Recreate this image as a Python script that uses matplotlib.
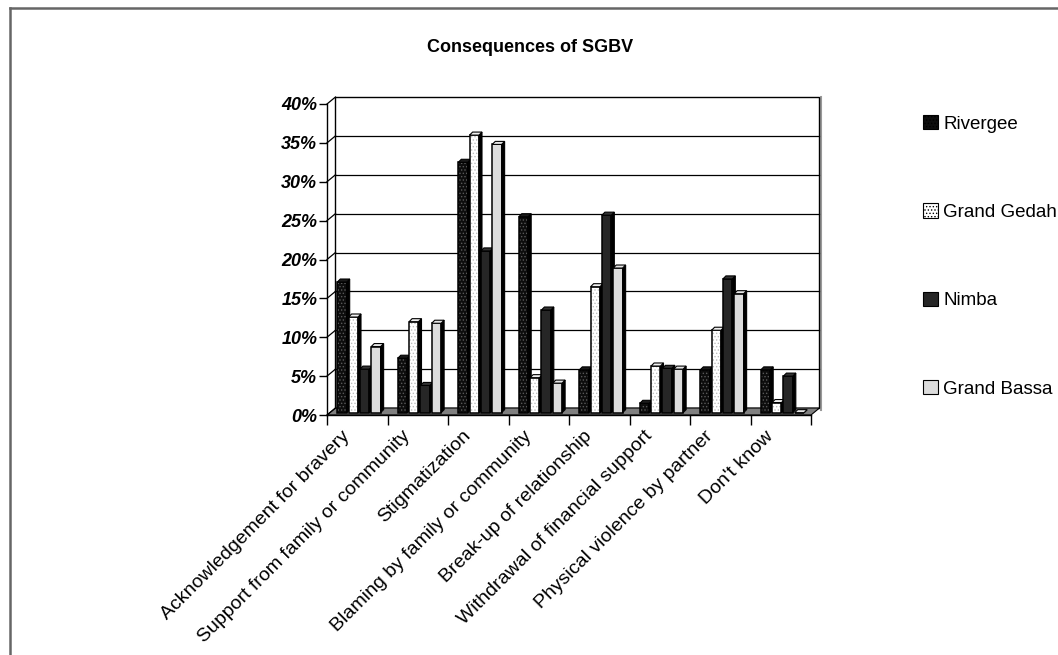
import matplotlib
matplotlib.use("Agg")
import matplotlib.pyplot as plt
from matplotlib.patches import Patch, Polygon, Rectangle
from matplotlib.lines import Line2D
from matplotlib.transforms import ScaledTranslation

plt.rcParams['font.family'] = ['Liberation Sans', 'DejaVu Sans']
plt.rcParams['hatch.linewidth'] = 0.6

# data (shares of respondents, %)
categories = ["Acknowledgement for bravery", "Support from family or community",
              "Stigmatization", "Blaming by family or community",
              "Break-up of relationship", "Withdrawal of financial support",
              "Physical violence by partner", "Don't know"]
series_names = ["Rivergee", "Grand Gedah", "Nimba", "Grand Bassa"]
rivergee = [16.8, 7.0, 32.2, 25.2, 5.5, 1.2, 5.5, 5.5]
grand_gedah = [12.3, 11.7, 35.7, 4.5, 16.2, 6.0, 10.6, 1.3]
nimba = [5.6, 3.5, 20.8, 13.2, 25.4, 5.7, 17.2, 4.7]
grand_bassa = [8.5, 11.5, 34.5, 3.8, 18.6, 5.6, 15.3, 0.0]
yticks = [0, 5, 10, 15, 20, 25, 30, 35, 40]

values = [rivergee, grand_gedah, nimba, grand_bassa]
faces = ['#0d0d0d', '#ffffff', '#262626', '#dcdcdc']
hatches = ['.....', '.....', None, None]
hatch_cols = ['#5a5a5a', '#bdbdbd', '#262626', '#dcdcdc']
tops = ['#1a1a1a', '#f0f0f0', '#333333', '#e6e6e6']

W, H = 1058, 655
fig = plt.figure(figsize=(W / 100, H / 100), dpi=100)
ax = fig.add_axes([327 / W, (H - 415) / H, (811 - 327) / W, (415 - 104) / H])
ax.set_xlim(0, len(categories))
ax.set_ylim(0, 40)

# 3d-ish offsets (data units)
bdx, bdy = 0.14, 0.9      # back wall
ddx, ddy = 0.05, 0.39     # bar depth
y0 = 0.3                  # bar base above floor front edge
start, pitch, bw = 0.17, 0.187, 0.155

# floor and walls
ncat = len(categories)
ax.add_patch(Polygon([(0, 0), (ncat, 0), (ncat + bdx, bdy), (bdx, bdy)],
                     closed=True, facecolor='#808080', edgecolor='black',
                     lw=0.8, clip_on=False, zorder=1))
ax.add_patch(Rectangle((bdx, bdy), ncat, 40, facecolor='white',
                       edgecolor='black', lw=1, clip_on=False, zorder=0.5))
for t in yticks:
    ax.plot([0, bdx], [t, t + bdy], color='black', lw=0.9, clip_on=False, zorder=1)
    if 0 < t < 40:
        ax.plot([bdx, ncat + bdx], [t + bdy, t + bdy], color='black', lw=0.9,
                clip_on=False, zorder=0.8)
ax.plot([ncat + bdx + 0.03] * 2, [bdy - 0.2, 40 + bdy], color='#999999', lw=1.5,
        clip_on=False, zorder=0.4)

# bars
for i in range(ncat):
    for s, vals in enumerate(values):
        v = vals[i]
        x = i + start + s * pitch
        z = 3 + i * 4 + s
        ax.bar(x, v, width=bw, bottom=y0, align='edge', color=faces[s],
               hatch=hatches[s], edgecolor=hatch_cols[s], lw=0, zorder=z)
        ax.bar(x, v, width=bw, bottom=y0, align='edge', fill=False,
               edgecolor='black', lw=1.1, zorder=z)
        ax.add_patch(Polygon([(x + bw, y0), (x + bw + ddx, y0 + ddy),
                              (x + bw + ddx, y0 + v + ddy), (x + bw, y0 + v)],
                             closed=True, facecolor='black', edgecolor='black',
                             lw=0.8, zorder=z, clip_on=False))
        ax.add_patch(Polygon([(x, y0 + v), (x + bw, y0 + v),
                              (x + bw + ddx, y0 + v + ddy), (x + ddx, y0 + v + ddy)],
                             closed=True, facecolor=tops[s], edgecolor='black',
                             lw=0.8, zorder=z, clip_on=False))

# axes
for sp in ['top', 'right']:
    ax.spines[sp].set_visible(False)
ax.spines['left'].set_linewidth(1)
ax.spines['bottom'].set_linewidth(1)
ax.spines['left'].set_zorder(60)
ax.spines['bottom'].set_zorder(60)
ax.set_yticks(yticks)
ax.set_yticklabels([f"{t}%" for t in yticks], fontsize=13, fontweight='bold',
                   fontstyle='italic')
ax.tick_params(axis='y', length=6, width=1, pad=1)
ax.set_xticks(range(ncat + 1))
ax.set_xticklabels([])
ax.tick_params(axis='x', which='major', length=7, width=1)
ax.set_xticks([i + 0.5 for i in range(ncat)], minor=True)
ax.set_xticklabels(categories, minor=True, rotation=45, ha='right',
                   rotation_mode='anchor', fontsize=14)
ax.tick_params(axis='x', which='minor', length=0, pad=9)
shift = ScaledTranslation(-0.16, 0, fig.dpi_scale_trans)
for lab in ax.get_xticklabels(minor=True):
    lab.set_transform(lab.get_transform() + shift)

# legend
handles = [Patch(facecolor=faces[s], hatch=hatches[s], edgecolor='black', lw=0.8)
           for s in range(4)]
fig.legend(handles, series_names, loc='upper left',
           bbox_to_anchor=(923 / W, 1 - 115 / H), frameon=False, fontsize=13.5,
           handlelength=0.78, handleheight=0.78, handletextpad=0.3,
           labelspacing=3.78, borderpad=0, borderaxespad=0)

fig.text(530 / W, 1 - 47 / H, "Consequences of SGBV", ha='center', va='center',
         fontsize=13, fontweight='bold')

# chart frame
fig.add_artist(Line2D([9.5 / W, 9.5 / W], [0, 1 - 8 / H], color='#666666', lw=1.8))
fig.add_artist(Line2D([9.5 / W, 1], [1 - 8 / H, 1 - 8 / H], color='#666666', lw=1.8))

fig.savefig('out.png', dpi=100)
